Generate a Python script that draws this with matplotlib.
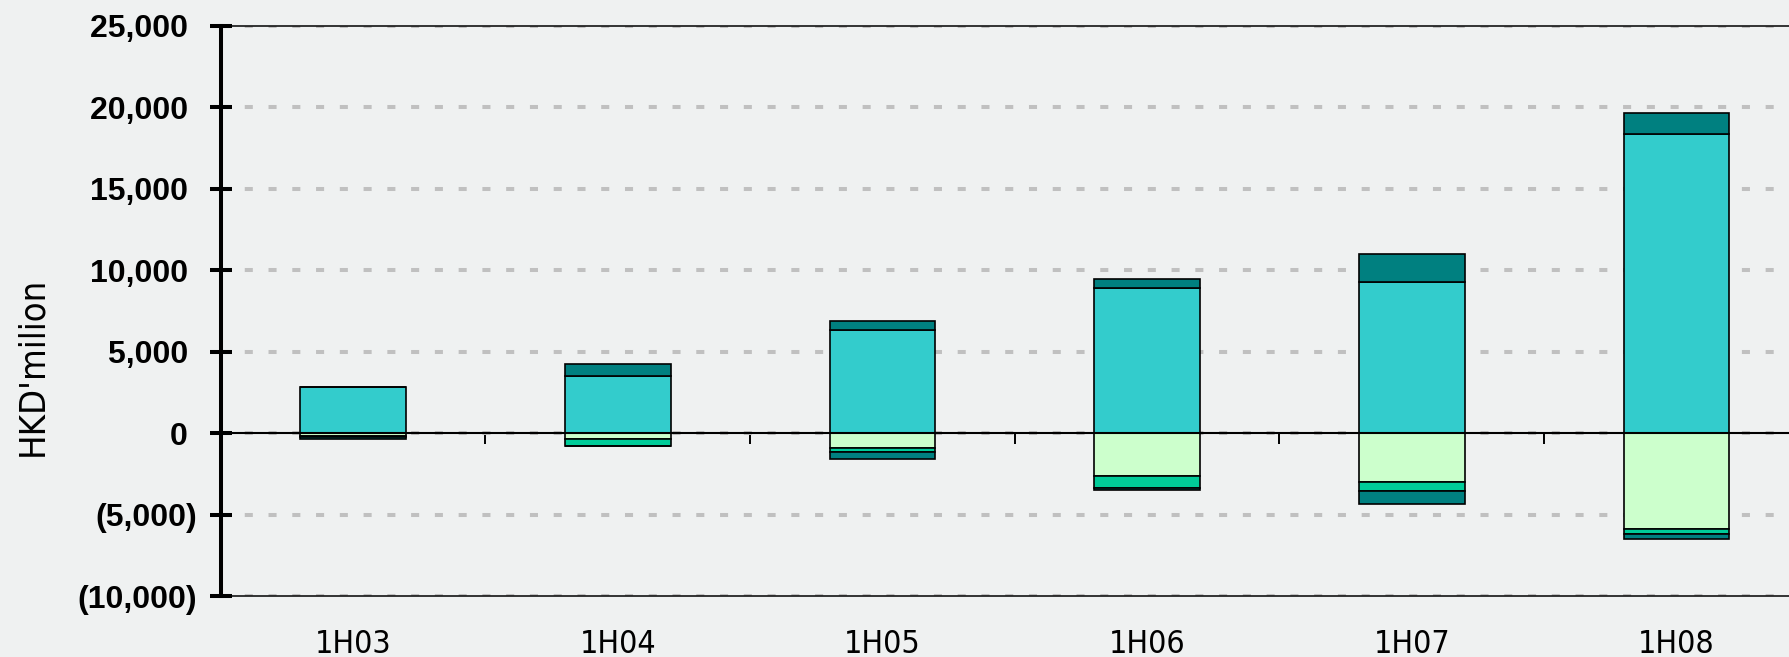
import numpy as np
import matplotlib.pyplot as plt
from matplotlib.ticker import FuncFormatter

periods = ['1H03', '1H04', '1H05', '1H06', '1H07', '1H08']
pos_main = [2840, 3490, 6310, 8890, 9290, 18340]
pos_other = [0, 780, 550, 550, 1700, 1310]
neg_main = [-200, -390, -940, -2610, -3000, -5860]
neg_mid = [-60, -410, -220, -740, -540, -350]
neg_other = [-120, 0, -430, -140, -790, -300]
yticks = [-10000, -5000, 0, 5000, 10000, 15000, 20000, 25000]

narrow = ['Liberation Sans Narrow', 'DejaVu Sans']

fig = plt.figure(figsize=(17.89, 6.57), dpi=100, facecolor='#eff1f1')
ax = fig.add_axes([0.1234, 0.0928, 0.8877, 0.868])
ax.set_facecolor('none')

x = np.arange(len(periods))
w = 0.4
ec = dict(edgecolor='black', linewidth=1.2)
ax.bar(x, pos_main, w, color='#33cccc', zorder=3, **ec)
ax.bar(x, pos_other, w, bottom=pos_main, color='#008080', zorder=3, **ec)
ax.bar(x, neg_main, w, color='#ccffcc', zorder=3, **ec)
ax.bar(x, neg_mid, w, bottom=neg_main, color='#00cc99', zorder=3, **ec)
ax.bar(x, neg_other, w, bottom=np.add(neg_main, neg_mid), color='#008080', zorder=3, **ec)
ax.axhline(0, color='black', linewidth=1.5, zorder=4)

ax.set_xlim(-0.5, len(periods) - 0.5)
ax.set_ylim(-10000, 25000)
ax.set_yticks(yticks)
ax.yaxis.set_major_formatter(FuncFormatter(
    lambda v, p: f'({abs(v):,.0f})' if v < 0 else f'{v:,.0f} '))
ax.tick_params(axis='y', direction='inout', length=16, width=2.9, labelsize=23, pad=9)
for t in ax.get_yticklabels():
    t.set_fontweight('bold')
    t.set_fontfamily('Liberation Sans')

ax.set_xticks(x)
ax.set_xticklabels(periods, family=narrow, fontstretch='condensed', fontsize=23)
ax.tick_params(axis='x', length=0, pad=24)

ax.grid(axis='y', color='#c0c0c0', linewidth=2.9, linestyle=(0, (2.0, 3.9)), zorder=0)
ax.set_axisbelow(True)

ax.spines['left'].set_linewidth(2.9)
ax.spines['top'].set_linewidth(1.1)
ax.spines['bottom'].set_linewidth(1.1)
ax.spines['right'].set_visible(False)
for s in ax.spines.values():
    s.set_zorder(4)

# separator ticks between periods on the zero line
zero = ax.secondary_xaxis(10 / 35)
zero.set_xticks(x[:-1] + 0.5)
zero.tick_params(direction='out', length=8, width=1.4, labelbottom=False, labeltop=False)
zero.spines['bottom'].set_visible(False)

ax.set_ylabel("HKD'milion", family=narrow, fontstretch='condensed', fontsize=26, va='center')
ax.yaxis.set_label_coords(-0.119, 0.403)

fig.savefig('out.png', dpi=100, facecolor=fig.get_facecolor())
